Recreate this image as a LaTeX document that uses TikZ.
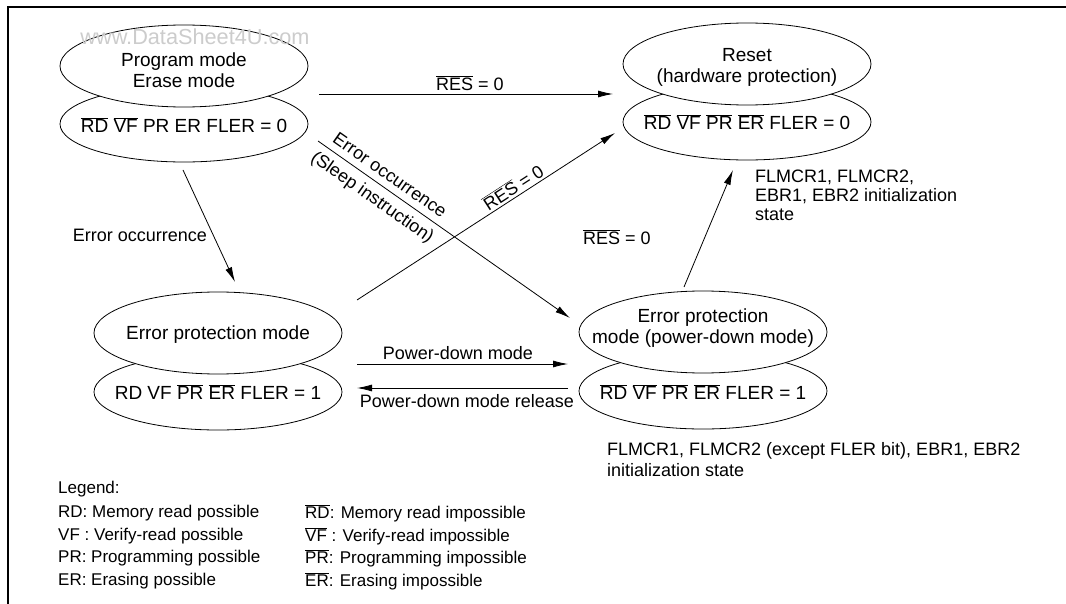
\documentclass[tikz,border=0pt]{standalone}
\usepackage{fontspec}
\setmainfont{Liberation Sans}
\usetikzlibrary{shapes.geometric,arrows.meta}
\newcommand\ovl[1]{\ensuremath{\overline{\mbox{#1}}}}
\begin{document}
\begin{tikzpicture}[x=1pt,y=-1pt,
  ell/.style={ellipse,draw,fill=white,inner sep=0pt,minimum width=248pt,line width=0.8pt},
  topell/.style={ell,minimum height=82pt},
  botell/.style={ell,minimum height=76pt},
  txt/.style={font=\fontsize{19}{21}\selectfont,align=center,inner sep=0pt},
  arr/.style={-{Latex[length=15pt,width=7pt]},line width=0.8pt},
  lbl/.style={font=\fontsize{18}{21}\selectfont,inner sep=0pt,align=left},
  leg/.style={font=\fontsize{17}{20}\selectfont,anchor=west,inner sep=0pt}]
\useasboundingbox (0,0) rectangle (1066,604);
\fill[white] (0,0) rectangle (1066,604);
% frame
\draw[line width=2pt] (8,604) -- (8,7.5) -- (1066,7.5);
% states
\node[botell] (Pb) at (184,124) {};
\node[topell] (P) at (184,66) {};
\node[txt] (Pt) at (184,70) {Program mode\\Erase mode};
\node[txt] (Pbt) at (184,125) {\ovl{RD} \ovl{VF} PR ER FLER = 0};
\node[font=\fontsize{21.7}{24}\selectfont,text=black!20,inner sep=0pt] (wm) at (195,37) {www.DataSheet4U.com};

\node[botell] (Rb) at (747,122) {};
\node[topell] (R) at (747,64) {};
\node[txt] (Rt) at (747,67) {Reset\\(hardware protection)};
\node[txt] (Rbt) at (747,122) {\ovl{RD} \ovl{VF} \ovl{PR} \ovl{ER} FLER = 0};

\node[botell] (Eb) at (218,392) {};
\node[topell] (E) at (218,333) {};
\node[txt] (Et) at (218,335) {Error protection mode};
\node[txt] (Ebt) at (218,392) {RD VF \ovl{PR} \ovl{ER} FLER = 1};

\node[botell] (Db) at (703,391) {};
\node[topell] (D) at (703,332) {};
\node[txt] (Dt) at (703,328) {Error protection\\mode (power-down mode)};
\node[txt] (Dbt) at (703,392) {\ovl{RD} \ovl{VF} \ovl{PR} \ovl{ER} FLER = 1};

% connectors
\coordinate (a1s) at (319,94);  \coordinate (a1e) at (613,94);
\draw[arr] (a1s) -- (a1e);
\node[lbl] (l1) at (470,83) {\ovl{RES} = 0};

\coordinate (a2s) at (183,170); \coordinate (a2e) at (235,282);
\draw[arr] (a2s) -- (a2e);
\node[lbl] (l2) at (140,235) {Error occurrence};

\coordinate (a3s) at (318,141); \coordinate (a3e) at (570,318);
\draw[arr] (a3s) -- (a3e);
\node[lbl,rotate=-35] (l3a) at (390,175) {Error occurrence};
\node[lbl,rotate=-35] (l3b) at (372,198) {(Sleep instruction)};

\coordinate (a4s) at (357,300); \coordinate (a4e) at (615,133);
\draw[arr] (a4s) -- (a4e);
\node[lbl,rotate=33] (l4) at (513,187) {\ovl{RES} = 0};

\coordinate (a5s) at (684,287); \coordinate (a5e) at (733,170);
\draw[arr] (a5s) -- (a5e);
\node[lbl] (l5) at (617,237) {\ovl{RES} = 0};
\node[lbl,anchor=north west,font=\fontsize{18}{19}\selectfont] (n5) at (755,170) {FLMCR1, FLMCR2,\\EBR1, EBR2 initialization\\state};

\coordinate (a6s) at (357,364); \coordinate (a6e) at (568,364);
\draw[arr] (a6s) -- (a6e);
\node[lbl] (l6) at (458,353) {Power-down mode};

\coordinate (a7s) at (568,388); \coordinate (a7e) at (357,388);
\draw[arr] (a7s) -- (a7e);
\node[lbl] (l7) at (467,401) {Power-down mode release};

\node[lbl,anchor=north west,font=\fontsize{18}{21}\selectfont] (n6) at (607,442) {FLMCR1, FLMCR2 (except FLER bit), EBR1, EBR2\\initialization state};

% legend
\node[leg] (lg) at (58,489) {Legend:};
\node[leg] (g1) at (58,513) {RD: Memory read possible};
\node[leg] (g2) at (58,536) {VF : Verify-read possible};
\node[leg] (g3) at (58,558) {PR: Programming possible};
\node[leg] (g4) at (58,581) {ER: Erasing possible};
\node[leg] (h1) at (305,513) {\ovl{RD}: Memory read impossible};
\node[leg] (h2) at (305,536) {\ovl{VF} : Verify-read impossible};
\node[leg] (h3) at (305,558) {\ovl{PR}: Programming impossible};
\node[leg] (h4) at (305,581) {\ovl{ER}: Erasing impossible};
\end{tikzpicture}
\end{document}
